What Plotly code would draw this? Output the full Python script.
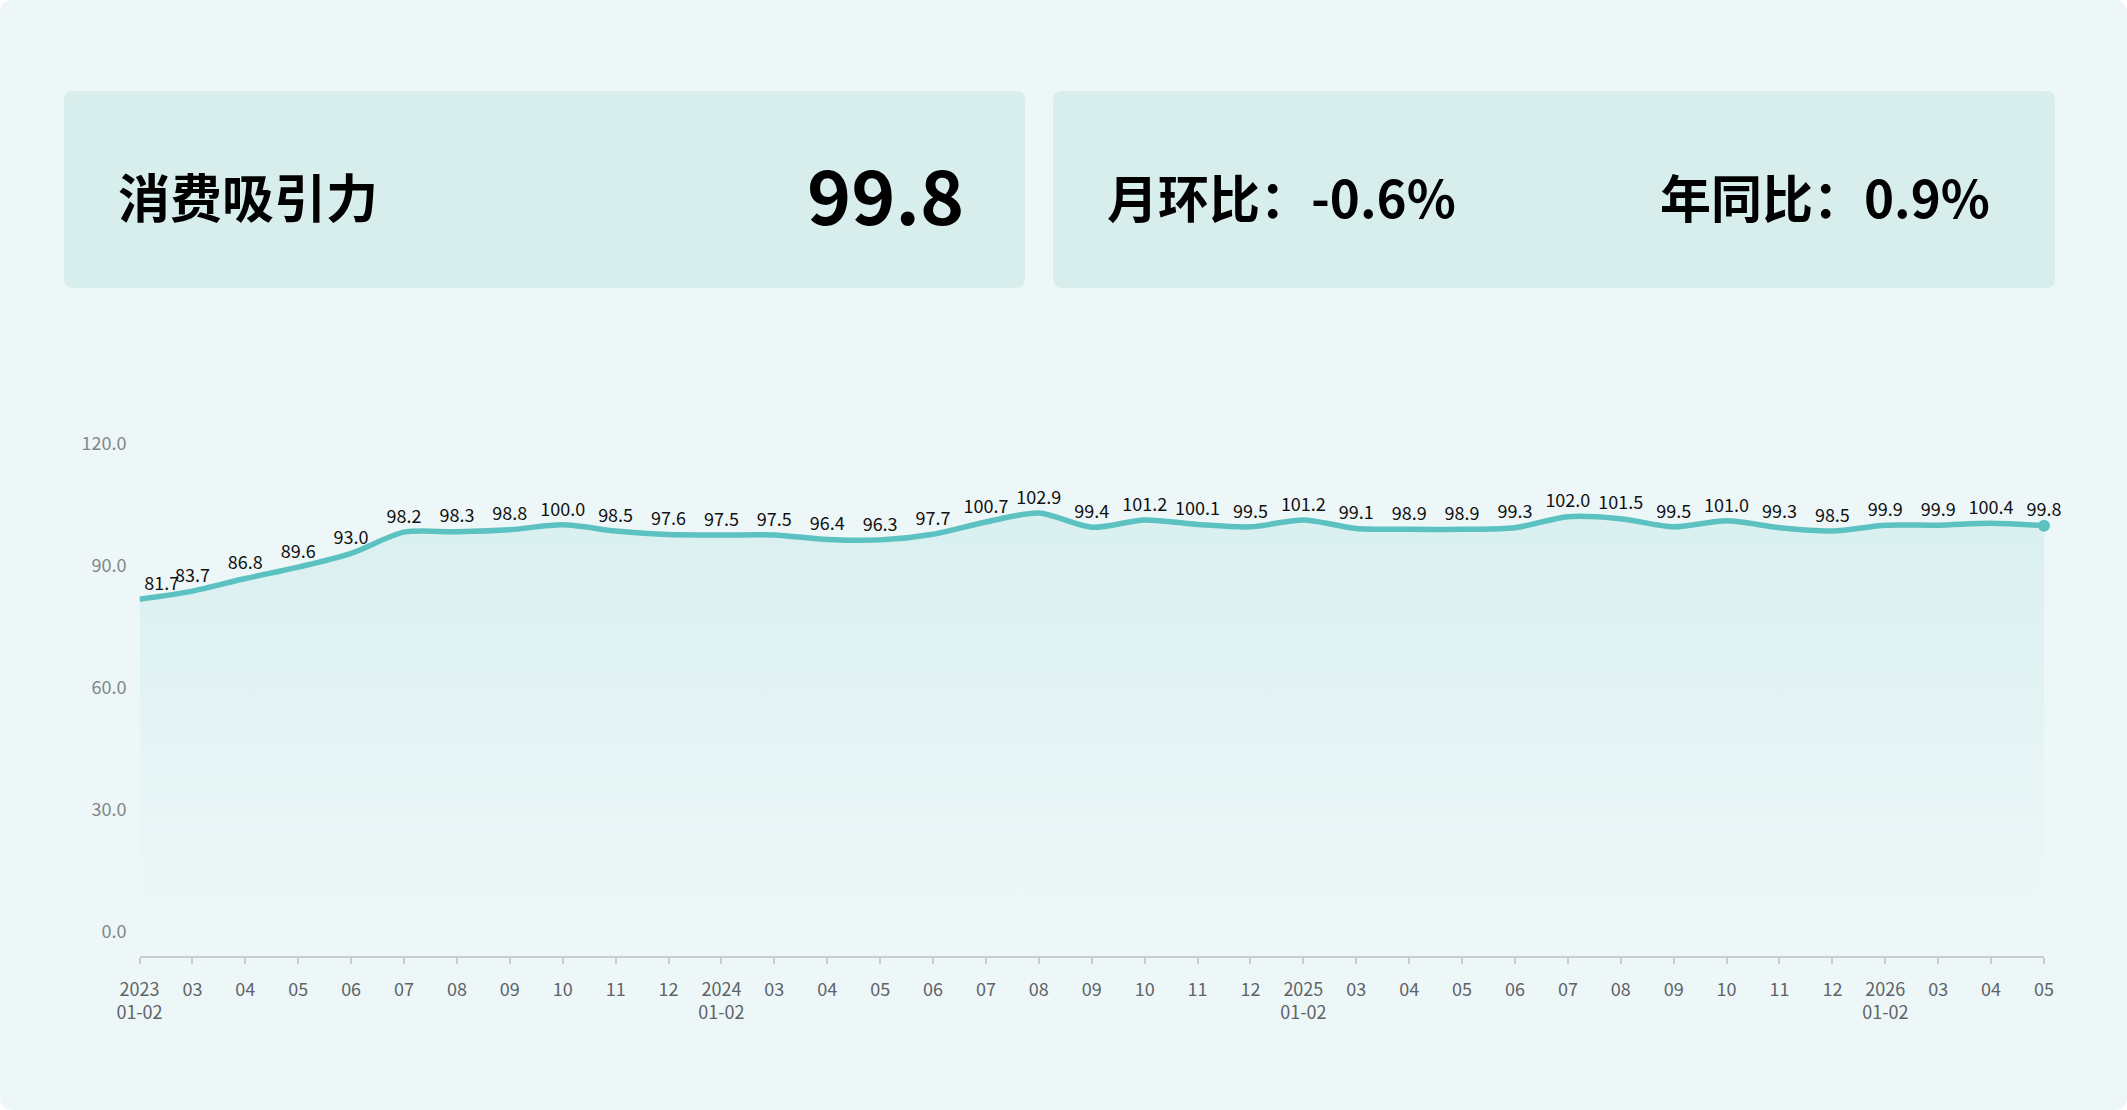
import plotly.graph_objects as go

# ---------------- data ----------------
periods = [
    "2023-01/02", "2023-03", "2023-04", "2023-05", "2023-06", "2023-07", "2023-08",
    "2023-09", "2023-10", "2023-11", "2023-12",
    "2024-01/02", "2024-03", "2024-04", "2024-05", "2024-06", "2024-07", "2024-08",
    "2024-09", "2024-10", "2024-11", "2024-12",
    "2025-01/02", "2025-03", "2025-04", "2025-05", "2025-06", "2025-07", "2025-08",
    "2025-09", "2025-10", "2025-11", "2025-12",
    "2026-01/02", "2026-03", "2026-04", "2026-05",
]
tick_labels = [
    "2023<br>01-02", "03", "04", "05", "06", "07", "08", "09", "10", "11", "12",
    "2024<br>01-02", "03", "04", "05", "06", "07", "08", "09", "10", "11", "12",
    "2025<br>01-02", "03", "04", "05", "06", "07", "08", "09", "10", "11", "12",
    "2026<br>01-02", "03", "04", "05",
]
values = [
    81.7, 83.7, 86.8, 89.6, 93.0, 98.2, 98.3, 98.8, 100.0, 98.5, 97.6,
    97.5, 97.5, 96.4, 96.3, 97.7, 100.7, 102.9, 99.4, 101.2, 100.1, 99.5,
    101.2, 99.1, 98.9, 98.9, 99.3, 102.0, 101.5, 99.5, 101.0, 99.3, 98.5,
    99.9, 99.9, 100.4, 99.8,
]
y_ticks = [0, 30, 60, 90, 120]

title_text = "消费吸引力"
current_value = "99.8"
mom_text = "月环比：-0.6%"
yoy_text = "年同比：0.9%"

# ---------------- layout helpers ----------------
W, H = 2127, 1110
FONT = "Noto Sans CJK SC, Noto Sans, sans-serif"
TEAL = "#5cc1c1"


def fx(x):
    return x / W


def fy(y):
    return 1 - y / H


def rounded_rect(x0, y0, x1, y1, r):
    rx, ry = r / W, r / H
    X0, X1 = fx(x0), fx(x1)
    Y0, Y1 = fy(y0), fy(y1)  # Y0 top, Y1 bottom in paper coords
    return (
        f"M {X0 + rx},{Y0} L {X1 - rx},{Y0} Q {X1},{Y0} {X1},{Y0 - ry} "
        f"L {X1},{Y1 + ry} Q {X1},{Y1} {X1 - rx},{Y1} "
        f"L {X0 + rx},{Y1} Q {X0},{Y1} {X0},{Y1 + ry} "
        f"L {X0},{Y0 - ry} Q {X0},{Y0} {X0 + rx},{Y0} Z"
    )


label_positions = ["top center"] * len(values)
label_positions[0] = "top right"

fig = go.Figure()

fig.add_trace(go.Scatter(
    x=periods,
    y=values,
    mode="lines+markers+text",
    line=dict(color=TEAL, width=5.5, shape="spline", smoothing=0.8),
    marker=dict(size=6, opacity=0),
    fill="tozeroy",
    fillgradient=dict(
        type="vertical",
        colorscale=[[0, "rgba(92,193,193,0.0)"], [1, "rgba(92,193,193,0.14)"]],
    ),
    text=[f"{v:.1f}" for v in values],
    textposition=label_positions,
    textfont=dict(family=FONT, size=18, color="#111111"),
    cliponaxis=False,
    hoverinfo="skip",
    showlegend=False,
))

fig.add_trace(go.Scatter(
    x=periods[-1:],
    y=values[-1:],
    mode="markers",
    marker=dict(size=12, color=TEAL),
    cliponaxis=False,
    hoverinfo="skip",
    showlegend=False,
))

# axis geometry
x_left, x_right = 139.5, 2044
y_axis_px, zero_px, px_per_unit = 956, 931.5, 122 / 30
y_top_val = 125
y_bottom_val = -(y_axis_px - zero_px) / px_per_unit
y_top_px = zero_px - y_top_val * px_per_unit

shapes = [
    dict(type="path", xref="paper", yref="paper", path=rounded_rect(0, 0, W, H, 13),
         fillcolor="#eef7f8", line=dict(width=0), layer="below"),
    dict(type="path", xref="paper", yref="paper", path=rounded_rect(64, 91, 1025, 288, 9),
         fillcolor="#d8eeec", line=dict(width=0), layer="below"),
    dict(type="path", xref="paper", yref="paper", path=rounded_rect(1053, 91, 2055, 288, 9),
         fillcolor="#d8eeec", line=dict(width=0), layer="below"),
]

annotations = [
    dict(text=title_text, x=fx(116), y=fy(196), xanchor="left", yanchor="middle",
         font=dict(family=FONT, size=52, color="#000000", weight="bold")),
    dict(text=current_value, x=fx(966), y=fy(192), xanchor="right", yanchor="middle",
         font=dict(family=FONT, size=75, color="#000000", weight="bold")),
    dict(text=mom_text, x=fx(1105), y=fy(196), xanchor="left", yanchor="middle",
         font=dict(family=FONT, size=51, color="#000000", weight="bold")),
    dict(text=yoy_text, x=fx(1658), y=fy(196), xanchor="left", yanchor="middle",
         font=dict(family=FONT, size=51, color="#000000", weight="bold")),
]
for a in annotations:
    a.update(xref="paper", yref="paper", showarrow=False)

fig.update_layout(
    template="none",
    width=W,
    height=H,
    autosize=False,
    margin=dict(l=0, r=0, t=0, b=0, pad=0),
    paper_bgcolor="#ffffff",
    plot_bgcolor="rgba(0,0,0,0)",
    shapes=shapes,
    annotations=annotations,
    font=dict(family=FONT),
    xaxis=dict(
        type="category",
        automargin=False,
        domain=[fx(x_left), fx(x_right)],
        range=[0, len(periods) - 1],
        tickvals=periods,
        ticktext=tick_labels,
        showline=True,
        linecolor="#c8cdd0",
        linewidth=2,
        ticks="outside",
        ticklen=6,
        tickwidth=2,
        tickcolor="#c8cdd0",
        showgrid=False,
        zeroline=False,
        tickfont=dict(family=FONT, size=18, color="#5f6368"),
        ticklabelstandoff=10,
        fixedrange=True,
    ),
    yaxis=dict(
        automargin=False,
        domain=[fy(y_axis_px), fy(y_top_px)],
        range=[y_bottom_val, y_top_val],
        tickvals=y_ticks,
        tickformat=".1f",
        showgrid=False,
        zeroline=False,
        showline=False,
        ticks="",
        tickfont=dict(family=FONT, size=18, color="#80868b"),
        ticklabelstandoff=12,
        fixedrange=True,
    ),
)

fig.write_html("out.html")
